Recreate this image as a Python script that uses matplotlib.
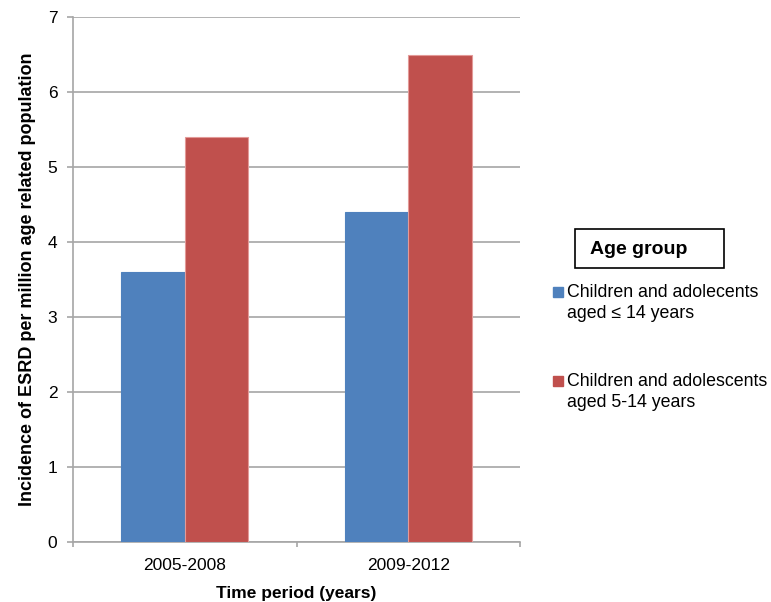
import matplotlib.pyplot as plt
from matplotlib.patches import Rectangle
import numpy as np

plt.rcParams['font.family'] = ['Liberation Sans', 'DejaVu Sans']

periods = ["2005-2008", "2009-2012"]
series_names = ["Children and adolecents\naged \u2264 14 years",
                "Children and adolescents\naged 5-14 years"]
series_values = [[3.6, 4.4], [5.4, 6.5]]
colors = ["#4F81BD", "#C0504D"]
edge_colors = ["#4F81BD", "#E39A98"]

W, H = 771, 602
fig = plt.figure(figsize=(W / 100, H / 100), dpi=100)
ax = fig.add_axes([73 / W, 1 - 542 / H, (520 - 73) / W, (542 - 17) / H])

x = np.arange(len(periods))
bar_w = 0.284
for i, (vals, c, ec) in enumerate(zip(series_values, colors, edge_colors)):
    offset = (i - 0.5) * bar_w
    ax.bar(x + offset, vals, width=bar_w, color=c, edgecolor=ec,
           linewidth=0.8, zorder=3)

grid_c = "#A6A6A6"
ax.set_xlim(-0.5, len(periods) - 0.5)
ax.set_ylim(0, 7)
ax.set_yticks(range(8))
ax.yaxis.grid(True, color=grid_c, linewidth=1.2, zorder=0)
ax.set_xticks(np.arange(-0.5, len(periods)), minor=False)
ax.set_xticklabels([])
ax.set_xticks(x, minor=True)
ax.set_xticklabels(periods, minor=True, fontsize=12.5)
ax.tick_params(axis="x", which="minor", length=0, pad=11.5)
ax.tick_params(axis="x", which="major", length=3.6, color=grid_c, width=1.2)
ax.tick_params(axis="y", length=4.3, color=grid_c, width=1.2, labelsize=12.5, pad=7)

for s in ["top", "right"]:
    ax.spines[s].set_visible(False)
for s in ["left", "bottom"]:
    ax.spines[s].set_color(grid_c)
    ax.spines[s].set_linewidth(1.2)

ax.set_xlabel("Time period (years)", fontsize=12.5, fontweight="bold", labelpad=9.5)
ax.set_ylabel("Incidence of ESRD per million age related population",
              fontsize=13, fontweight="bold", labelpad=8.5)

# legend title box
fig.text(590 / W, 1 - 249 / H, "Age group", fontsize=14, fontweight="bold",
         va="center", ha="left")
fig.patches.append(Rectangle((575 / W, 1 - 268 / H), (724 - 575) / W, 39 / H,
                             transform=fig.transFigure, fill=False,
                             edgecolor="black", linewidth=1.2))

# legend entries
entry_tops = [292, 381]
for name, c, yc in zip(series_names, colors, entry_tops):
    fig.patches.append(Rectangle((553 / W, 1 - (yc + 5) / H), 10 / W, 10 / H,
                                 transform=fig.transFigure, color=c))
    fig.text(567 / W, 1 - (yc - 8) / H, name, fontsize=12.8, va="top",
             ha="left", linespacing=1.3)

fig.savefig("out.png", dpi=100)
